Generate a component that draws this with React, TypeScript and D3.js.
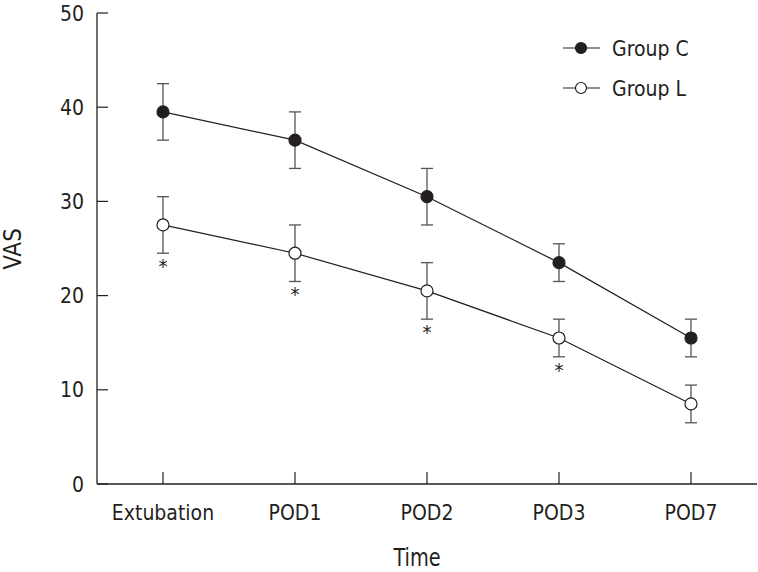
import React from "react";
import * as d3 from "d3";

const categories = ["Extubation", "POD1", "POD2", "POD3", "POD7"];
const groupC = [39.5, 36.5, 30.5, 23.5, 15.5];
const groupCErr = [3, 3, 3, 2, 2];
const groupL = [27.5, 24.5, 20.5, 15.5, 8.5];
const groupLErr = [3, 3, 3, 2, 2];
const significant = [true, true, true, true, false];
const yTicks = [0, 10, 20, 30, 40, 50];

const W = 758;
const H = 572;
const FONT = "'Liberation Sans Narrow', 'DejaVu Sans Condensed', 'Roboto', sans-serif";

export default function App() {
  const x = d3.scalePoint<string>().domain(categories).range([97, 757]).padding(0.5);
  const y = d3.scaleLinear().domain([0, 50]).range([484, 13]);
  const line = d3
    .line<number>()
    .x((_, i) => x(categories[i]) as number)
    .y((d) => y(d));

  const series = [
    { name: "Group C", vals: groupC, err: groupCErr, fill: "#231f20" },
    { name: "Group L", vals: groupL, err: groupLErr, fill: "#ffffff" },
  ];

  return (
    <svg
      width={W}
      height={H}
      style={{ position: "absolute", left: 0, top: 0, background: "#fff" }}
      fontFamily={FONT}
    >
      {/* axes */}
      <line x1={97} x2={97} y1={13} y2={484} stroke="#231f20" strokeWidth={1.3} />
      <line x1={97} x2={757} y1={484} y2={484} stroke="#231f20" strokeWidth={1.3} />
      {yTicks.map((t) => (
        <g key={t}>
          <line x1={97} x2={108} y1={y(t)} y2={y(t)} stroke="#231f20" strokeWidth={1.2} />
          <text x={84} y={y(t)} dy="0.36em" textAnchor="end" fontSize={21} fill="#231f20">
            {t}
          </text>
        </g>
      ))}
      {categories.map((c) => (
        <g key={c}>
          <line x1={x(c)} x2={x(c)} y1={484} y2={472} stroke="#231f20" strokeWidth={1.2} />
          <text x={x(c)} y={520} textAnchor="middle" fontSize={21} fill="#231f20">
            {c}
          </text>
        </g>
      ))}
      <text
        transform="translate(417,566) scale(0.86,1)"
        textAnchor="middle"
        fontSize={25}
        fill="#231f20"
      >
        Time
      </text>
      <text
        transform="translate(21,249) rotate(-90)"
        textAnchor="middle"
        fontSize={24}
        fill="#231f20"
      >
        VAS
      </text>

      {series.map((s) => (
        <g key={s.name}>
          <path d={line(s.vals) || ""} fill="none" stroke="#231f20" strokeWidth={1.2} />
          {s.vals.map((v, i) => {
            const cx = x(categories[i]) as number;
            const lo = y(v - s.err[i]);
            const hi = y(v + s.err[i]);
            return (
              <g key={i} stroke="#555" strokeWidth={1.3}>
                <line x1={cx} x2={cx} y1={lo} y2={hi} />
                <line x1={cx - 6} x2={cx + 6} y1={lo} y2={lo} />
                <line x1={cx - 6} x2={cx + 6} y1={hi} y2={hi} />
              </g>
            );
          })}
          {s.vals.map((v, i) => (
            <circle
              key={"c" + i}
              cx={x(categories[i])}
              cy={y(v)}
              r={6}
              fill={s.fill}
              stroke="#231f20"
              strokeWidth={1.2}
            />
          ))}
        </g>
      ))}

      {groupL.map((v, i) =>
        significant[i] ? (
          <text
            key={"s" + i}
            x={x(categories[i])}
            y={y(v - groupLErr[i]) + 20}
            textAnchor="middle"
            fontSize={20}
            fill="#231f20"
          >
            *
          </text>
        ) : null
      )}

      {/* legend */}
      {series.map((s, i) => (
        <g key={"lg" + i} transform={`translate(0,${48 + i * 40})`}>
          <line x1={563} x2={600} y1={0} y2={0} stroke="#231f20" strokeWidth={1.2} />
          <circle cx={581} cy={0} r={5.5} fill={s.fill} stroke="#231f20" strokeWidth={1.2} />
          <text x={612} y={0} dy="0.36em" fontSize={21} fill="#231f20">
            {s.name}
          </text>
        </g>
      ))}
    </svg>
  );
}
